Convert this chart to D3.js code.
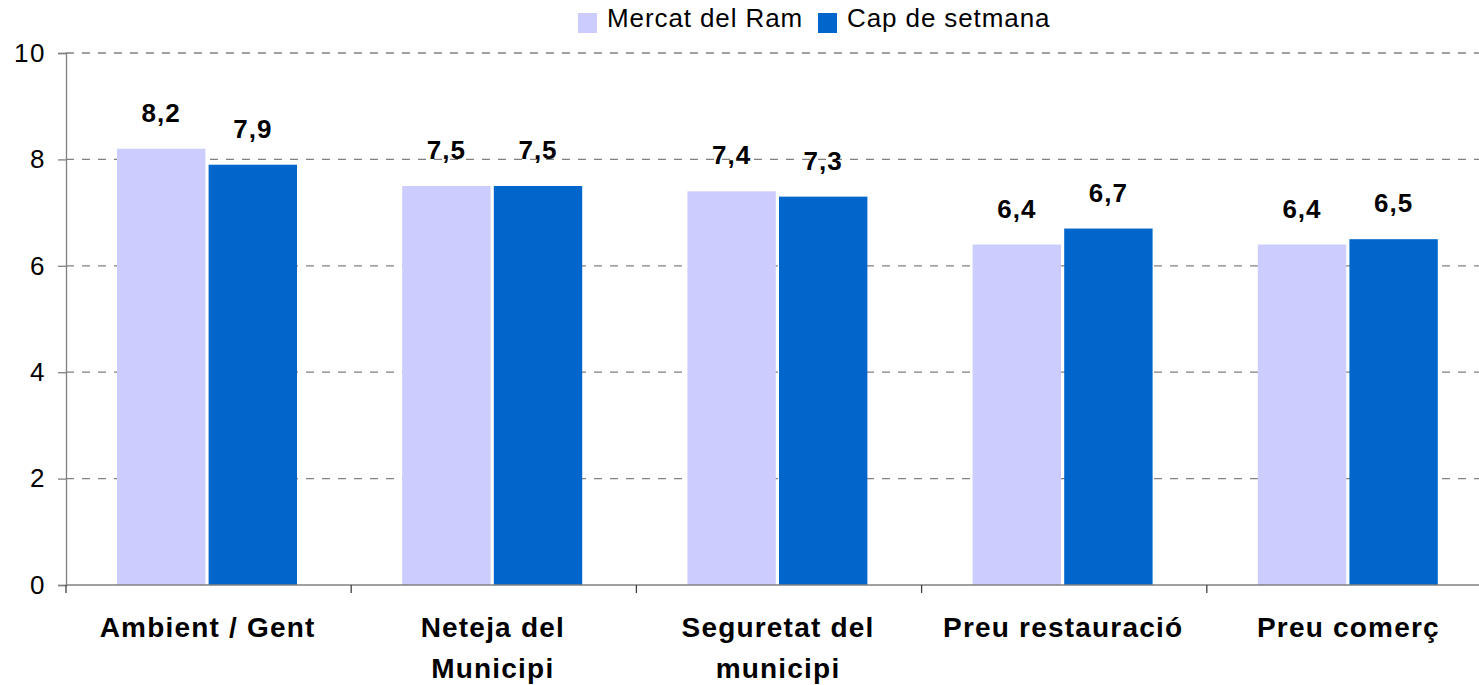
<!DOCTYPE html>
<html>
<head>
<meta charset="utf-8">
<script src="https://cdn.jsdelivr.net/npm/d3@7.9.0/dist/d3.min.js"></script>
<style>
  body { margin: 0; background: #fff; }
  svg { display: block; font-family: "Liberation Sans", Arial, sans-serif; }
</style>
</head>
<body>
<div id="chart"></div>
<script>
const categories = [
  ['Ambient / Gent'],
  ['Neteja del', 'Municipi'],
  ['Seguretat del', 'municipi'],
  ['Preu restauració'],
  ['Preu comerç']
];
const seriesNames = ['Mercat del Ram', 'Cap de setmana'];
const mercatRam = [8.2, 7.5, 7.4, 6.4, 6.4];
const capSetmana = [7.9, 7.5, 7.3, 6.7, 6.5];
const yTicks = [0, 2, 4, 6, 8, 10];
const colors = ['#CCCCFF', '#0066CC'];

const width = 1479, height = 685;
const margin = { top: 53, left: 66, bottom: 100 };
const plotRight = 1492;

const svg = d3.select('#chart').append('svg')
  .attr('width', width)
  .attr('height', height);

const x0 = d3.scaleBand()
  .domain(d3.range(categories.length))
  .range([margin.left, plotRight])
  .paddingInner(0).paddingOuter(0);

const x1 = d3.scaleBand()
  .domain([0, 1])
  .range([51, 231])
  .paddingInner(0.035);

const y = d3.scaleLinear()
  .domain([0, 10])
  .range([585, margin.top]);

// gridlines
svg.append('g')
  .selectAll('line')
  .data(yTicks.filter((d) => d > 0))
  .join('line')
  .attr('x1', margin.left)
  .attr('x2', plotRight)
  .attr('y1', (d) => y(d))
  .attr('y2', (d) => y(d))
  .attr('stroke', '#808080')
  .attr('stroke-width', 1.3)
  .attr('stroke-dasharray', '8,8');

// bars
const data = categories.map((c, i) => ({ i, values: [mercatRam[i], capSetmana[i]] }));
const groups = svg.append('g')
  .selectAll('g')
  .data(data)
  .join('g')
  .attr('transform', (d) => `translate(${x0(d.i)},0)`);

groups.selectAll('rect')
  .data((d) => d.values.map((v, s) => ({ v, s })))
  .join('rect')
  .attr('x', (d) => x1(d.s))
  .attr('width', x1.bandwidth())
  .attr('y', (d) => y(d.v))
  .attr('height', (d) => y(0) - y(d.v))
  .attr('fill', (d) => colors[d.s]);

groups.selectAll('text.val')
  .data((d) => d.values.map((v, s) => ({ v, s })))
  .join('text')
  .attr('class', 'val')
  .attr('x', (d) => x1(d.s) + x1.bandwidth() / 2)
  .attr('y', (d) => y(d.v) - 27)
  .attr('text-anchor', 'middle')
  .attr('font-size', 26)
  .attr('font-weight', 'bold')
  .attr('letter-spacing', 1)
  .text((d) => d3.format('.1f')(d.v).replace('.', ','));

// y axis
const yAxis = svg.append('g')
  .attr('transform', `translate(${margin.left},0)`)
  .call(d3.axisLeft(y).tickValues(yTicks).tickSize(8).tickPadding(12).tickFormat(d3.format('d')));
yAxis.select('.domain').attr('stroke', '#808080').attr('stroke-width', 1.3);
yAxis.selectAll('.tick line').attr('stroke', '#808080').attr('stroke-width', 1.3);
yAxis.selectAll('.tick text')
  .attr('font-size', 26)
  .attr('letter-spacing', 1.5)
  .attr('font-family', '"Liberation Sans", Arial, sans-serif')
  .attr('fill', '#000');

// x axis
const xAxis = svg.append('g')
  .attr('transform', `translate(0,${y(0)})`);
xAxis.append('line')
  .attr('x1', margin.left).attr('x2', plotRight)
  .attr('stroke', '#808080').attr('stroke-width', 1.3);
xAxis.selectAll('line.tk')
  .data(d3.range(categories.length + 1))
  .join('line')
  .attr('class', 'tk')
  .attr('x1', (d) => margin.left + d * x0.step())
  .attr('x2', (d) => margin.left + d * x0.step())
  .attr('y1', 0).attr('y2', 8)
  .attr('stroke', '#404040').attr('stroke-width', 1.3);

xAxis.selectAll('text.cat')
  .data(categories)
  .join('text')
  .attr('class', 'cat')
  .attr('x', (d, i) => x0(i) + x0.bandwidth() / 2 - 1)
  .attr('y', 52)
  .attr('text-anchor', 'middle')
  .attr('font-size', 28)
  .attr('font-weight', 'bold')
  .attr('letter-spacing', 1.2)
  .each(function (d) {
    const t = d3.select(this);
    d.forEach((line, k) => {
      t.append('tspan')
        .attr('x', t.attr('x'))
        .attr('dy', k === 0 ? 0 : 41)
        .text(line);
    });
  });

// legend
const legend = svg.append('g').attr('transform', 'translate(578,13)');
const legendX = [0, 240];
seriesNames.forEach((name, i) => {
  const g = legend.append('g').attr('transform', `translate(${legendX[i]},0)`);
  g.append('rect').attr('width', 19).attr('height', 20).attr('fill', colors[i]);
  g.append('text')
    .attr('x', 29)
    .attr('y', 14)
    .attr('font-size', 26)
    .attr('letter-spacing', 0.9)
    .text(name);
});
</script>
</body>
</html>
